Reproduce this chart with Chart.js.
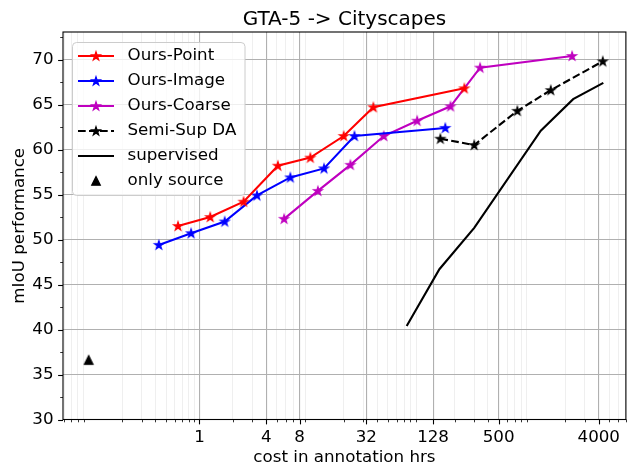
<!DOCTYPE html>
<html lang="en">
<head>
<meta charset="UTF-8">
<title>GTA-5 -> Cityscapes</title>
<script src="https://cdn.jsdelivr.net/npm/chart.js"></script>
<style>
  html, body { margin: 0; padding: 0; background: #fff; }
  #wrap { width: 633px; height: 468px; }
</style>
</head>
<body>
<div id="wrap"><canvas id="chart" width="633" height="468"></canvas></div>
<script>
// values (x = annotation hours, y = mIoU)
const pointCost = [0.64, 1.25, 2.5, 5.1, 10, 20, 37, 245];
const pointMiou = [51.5, 52.5, 54.2, 58.2, 59.1, 61.5, 64.7, 66.8];

const imageCost = [0.43, 0.84, 1.69, 3.3, 6.6, 13.3, 25, 165];
const imageMiou = [49.4, 50.7, 52.0, 54.9, 56.9, 57.9, 61.5, 62.4];

const coarseCost = [5.8, 11.7, 23, 46, 92, 184, 340, 2300];
const coarseMiou = [52.3, 55.4, 58.3, 61.5, 63.2, 64.8, 69.1, 70.4];

const semiCost = [149, 301, 737, 1477, 4350];
const semiMiou = [61.2, 60.5, 64.3, 66.6, 69.8];

const supCost = [74, 146, 301, 1200, 2350, 4400];
const supMiou = [40.4, 46.7, 51.3, 62.1, 65.6, 67.4];

const srcCost = [0.1];
const srcMiou = [36.6];

const xMajorTicks = [1, 4, 8, 32, 128, 500, 4000];
const yMajorStep = 5;

const X_MIN = 0.0587, X_MAX = 7030;
const Y_MIN = 30, Y_MAX = 73.06;

const FONT = 'DejaVu Sans';
Chart.defaults.font.family = FONT;
Chart.defaults.font.size = 16.7;
Chart.defaults.color = '#000';

const RED = '#ff0000', BLUE = '#0000ff', MAG = '#bf00bf', BLACK = '#000000';

function starImg(color) {
  const c = document.createElement('canvas');
  c.width = 14; c.height = 14;
  const g = c.getContext('2d');
  g.beginPath();
  for (let i = 0; i < 10; i++) {
    const r = i % 2 === 0 ? 4.4 : 4.4 * 0.382;
    const a = -Math.PI / 2 + i * Math.PI / 5;
    const px = 7 + r * Math.cos(a), py = 7.3 + r * Math.sin(a);
    if (i === 0) g.moveTo(px, py); else g.lineTo(px, py);
  }
  g.closePath();
  g.fillStyle = color; g.strokeStyle = color; g.lineWidth = 1.3; g.lineJoin = 'miter';
  g.fill(); g.stroke();
  return c;
}

function triImg(color) {
  const c = document.createElement('canvas');
  c.width = 12; c.height = 12;
  const g = c.getContext('2d');
  g.beginPath();
  g.moveTo(6, 1.6); g.lineTo(10.3, 10.2); g.lineTo(1.7, 10.2); g.closePath();
  g.fillStyle = color; g.strokeStyle = color; g.lineWidth = 1.2;
  g.fill(); g.stroke();
  return c;
}

const stars = { r: starImg(RED), b: starImg(BLUE), m: starImg(MAG), k: starImg(BLACK) };
const tri = triImg(BLACK);

const pts = (xs, ys) => xs.map((x, i) => ({ x: x, y: ys[i] }));

// tick positions: custom majors plus the usual log minors (2..9 x 10^k)
const xTicks = [];
for (let e = -2; e <= 3; e++) {
  for (let m = 2; m <= 9; m++) {
    const v = parseFloat((m * Math.pow(10, e)).toPrecision(6));
    if (v >= X_MIN && v <= X_MAX) xTicks.push(v);
  }
}
xMajorTicks.forEach(v => { if (!xTicks.some(t => Math.abs(t - v) / v < 1e-6)) xTicks.push(v); });
xTicks.sort((a, b) => a - b);
const isXMajor = v => xMajorTicks.some(m => Math.abs(m - v) / m < 1e-6);

const yTicks = [];
for (let v = Y_MIN; v <= Y_MAX; v += 2.5) yTicks.push(v);
const isYMajor = v => Math.abs(v / yMajorStep - Math.round(v / yMajorStep)) < 1e-6;

const legendItems = [
  { label: 'Ours-Point', color: RED, line: true, dash: [], marker: stars.r },
  { label: 'Ours-Image', color: BLUE, line: true, dash: [], marker: stars.b },
  { label: 'Ours-Coarse', color: MAG, line: true, dash: [], marker: stars.m },
  { label: 'Semi-Sup DA', color: BLACK, line: true, dash: [7.7, 3.3], marker: stars.k },
  { label: 'supervised', color: BLACK, line: true, dash: [], marker: null },
  { label: 'only source', color: BLACK, line: false, dash: [], marker: tri }
];

const decor = {
  id: 'decor',
  afterDatasetsDraw(chart) {
    const { ctx, chartArea: a } = chart;
    const xs = chart.scales.x, ys = chart.scales.y;
    ctx.save();
    // frame
    ctx.strokeStyle = '#000';
    ctx.lineWidth = 1.1;
    ctx.strokeRect(a.left, a.top, a.right - a.left, a.bottom - a.top);
    // tick marks (outward)
    xTicks.forEach(v => {
      const px = Math.round(xs.getPixelForValue(v)) + 0.5;
      const major = isXMajor(v);
      ctx.lineWidth = major ? 1.1 : 0.8;
      ctx.beginPath();
      ctx.moveTo(px, a.bottom);
      ctx.lineTo(px, a.bottom + (major ? 4.9 : 2.8));
      ctx.stroke();
    });
    yTicks.forEach(v => {
      const py = Math.round(ys.getPixelForValue(v)) + 0.5;
      const major = isYMajor(v);
      ctx.lineWidth = major ? 1.1 : 0.8;
      ctx.beginPath();
      ctx.moveTo(a.left, py);
      ctx.lineTo(a.left - (major ? 4.9 : 2.8), py);
      ctx.stroke();
    });
    // title
    ctx.fillStyle = '#000';
    ctx.font = '20px "' + FONT + '"';
    ctx.textAlign = 'center';
    ctx.textBaseline = 'alphabetic';
    ctx.fillText('GTA-5 -> Cityscapes', (a.left + a.right) / 2, a.top - 7);
    // legend
    const bx = a.left + 9.5, by = a.top + 10.5, bw = 172.5, bh = 153;
    ctx.beginPath();
    ctx.roundRect(bx, by, bw, bh, 4);
    ctx.fillStyle = 'rgba(255,255,255,0.8)';
    ctx.fill();
    ctx.strokeStyle = '#cccccc';
    ctx.lineWidth = 1;
    ctx.stroke();
    legendItems.forEach((it, i) => {
      const ry = by + 13.5 + i * 25;
      if (it.line) {
        ctx.strokeStyle = it.color;
        ctx.lineWidth = 2.1;
        ctx.setLineDash(it.dash);
        ctx.beginPath();
        ctx.moveTo(bx + 5.5, ry);
        ctx.lineTo(bx + 41.5, ry);
        ctx.stroke();
        ctx.setLineDash([]);
      }
      if (it.marker) {
        ctx.drawImage(it.marker, bx + 23.5 - it.marker.width / 2, ry - it.marker.height / 2);
      }
      ctx.fillStyle = '#000';
      ctx.font = '16.7px "' + FONT + '"';
      ctx.textAlign = 'left';
      ctx.textBaseline = 'middle';
      ctx.fillText(it.label, bx + 55, ry);
    });
    ctx.restore();
  }
};

new Chart(document.getElementById('chart').getContext('2d'), {
  type: 'scatter',
  data: {
    datasets: [
      { label: 'Ours-Point', data: pts(pointCost, pointMiou), showLine: true, borderColor: RED, backgroundColor: RED,
        borderWidth: 2.1, pointStyle: stars.r, pointRadius: 5, order: 1 },
      { label: 'Ours-Image', data: pts(imageCost, imageMiou), showLine: true, borderColor: BLUE, backgroundColor: BLUE,
        borderWidth: 2.1, pointStyle: stars.b, pointRadius: 5, order: 2 },
      { label: 'Ours-Coarse', data: pts(coarseCost, coarseMiou), showLine: true, borderColor: MAG, backgroundColor: MAG,
        borderWidth: 2.1, pointStyle: stars.m, pointRadius: 5, order: 3 },
      { label: 'Semi-Sup DA', data: pts(semiCost, semiMiou), showLine: true, borderColor: BLACK, backgroundColor: BLACK,
        borderWidth: 2.1, borderDash: [7.7, 3.3], pointStyle: stars.k, pointRadius: 5, order: 4 },
      { label: 'supervised', data: pts(supCost, supMiou), showLine: true, borderColor: BLACK, backgroundColor: BLACK,
        borderWidth: 2.1, pointRadius: 0, order: 5 },
      { label: 'only source', data: pts(srcCost, srcMiou), showLine: false, borderColor: BLACK, backgroundColor: BLACK,
        pointStyle: tri, pointRadius: 5, order: 6 }
    ]
  },
  options: {
    responsive: false,
    animation: false,
    layout: { padding: { top: 32, right: 4, left: 0, bottom: 0 } },
    plugins: { legend: { display: false }, tooltip: { enabled: false }, title: { display: false } },
    scales: {
      x: {
        type: 'logarithmic',
        position: 'bottom',
        min: X_MIN,
        max: X_MAX,
        afterBuildTicks: s => { s.ticks = xTicks.map(v => ({ value: v })); },
        afterFit: s => { s.height = 48.5; s.paddingLeft = 0; s.paddingRight = 0; },
        ticks: {
          autoSkip: false, maxRotation: 0, minRotation: 0, padding: 8, color: '#000',
          callback: v => isXMajor(v) ? String(v) : ''
        },
        grid: {
          drawTicks: false,
          color: c => isXMajor(c.tick.value) ? '#b0b0b0' : '#ebebeb',
          lineWidth: c => isXMajor(c.tick.value) ? 1.1 : 0.8
        },
        border: { display: false },
        title: { display: true, text: 'cost in annotation hrs', color: '#000', padding: { top: 0, bottom: 0 } }
      },
      y: {
        type: 'linear',
        position: 'left',
        min: Y_MIN,
        max: Y_MAX,
        afterBuildTicks: s => { s.ticks = yTicks.map(v => ({ value: v })); },
        afterFit: s => { s.width = 63; s.paddingTop = 0; s.paddingBottom = 0; },
        ticks: {
          padding: 9.5, color: '#000',
          callback: v => isYMajor(v) ? String(Math.round(v)) : ''
        },
        grid: {
          drawTicks: false,
          color: c => isYMajor(c.tick.value) ? '#b0b0b0' : '#ebebeb',
          lineWidth: c => isYMajor(c.tick.value) ? 1.1 : 0.8
        },
        border: { display: false },
        title: { display: true, text: 'mIoU performance', color: '#000', padding: { top: 10, bottom: 0 } }
      }
    }
  },
  plugins: [decor]
});
</script>
</body>
</html>
